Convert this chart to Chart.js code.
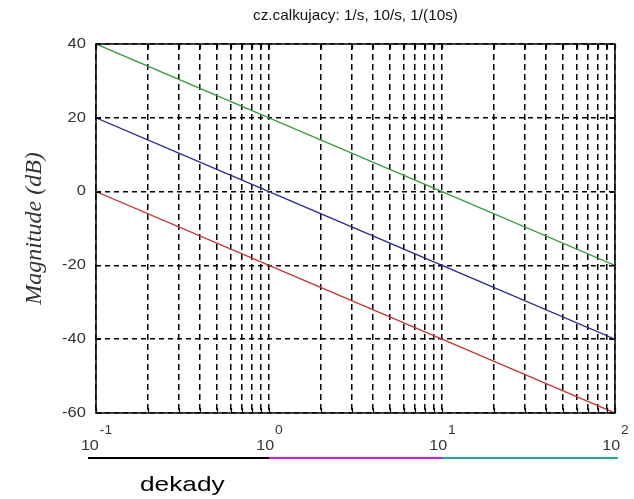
<!DOCTYPE html>
<html>
<head>
<meta charset="utf-8">
<script src="https://cdn.jsdelivr.net/npm/chart.js@4/dist/chart.umd.min.js"></script>
<style>
html,body{margin:0;padding:0;background:#fff;}
#wrap{width:634px;height:499px;position:relative;}
</style>
</head>
<body>
<div id="wrap"><canvas id="c" width="634" height="499"></canvas></div>
<script>
// ---- data ----
const titleText = 'cz.calkujacy: 1/s, 10/s, 1/(10s)';
const yLabelText = 'Magnitude (dB)';
const bottomText = 'dekady';
const freq = [0.1, 1, 10, 100];
const mag10s = [40, 20, 0, -20];      // 10/s
const mag1s = [20, 0, -20, -40];      // 1/s
const mag01s = [0, -20, -40, -60];    // 1/(10s)
const xDecades = [0.1, 1, 10, 100];
const xExponents = ['-1', '0', '1', '2'];
const xGridTicks = [0.1,0.2,0.3,0.4,0.5,0.6,0.7,0.8,0.9,1,2,3,4,5,6,7,8,9,10,20,30,40,50,60,70,80,90,100];
const yTicks = [-60, -40, -20, 0, 20, 40];
const decadeColors = ['#000000', '#e010e0', '#20a8a8'];

const pts = (ys) => freq.map((f, i) => ({x: f, y: ys[i]}));
const SANS = '"Liberation Sans", Arial, sans-serif';

function textW(ctx, t, font, sx) { ctx.font = font; return ctx.measureText(t).width * sx; }
function drawStretched(ctx, t, x, y, font, sx, align, baseline) {
  ctx.save();
  ctx.font = font;
  ctx.textBaseline = baseline || 'alphabetic';
  const w = ctx.measureText(t).width * sx;
  let left = x;
  if (align === 'center') left = x - w / 2;
  else if (align === 'right') left = x - w;
  ctx.translate(left, y);
  ctx.scale(sx, 1);
  ctx.textAlign = 'left';
  ctx.fillText(t, 0, 0);
  ctx.restore();
}

const decor = {
  id: 'decor',
  afterDraw(chart) {
    const ctx = chart.ctx, a = chart.chartArea;
    const xs = chart.scales.x, ys = chart.scales.y;
    ctx.save();
    // tick marks (solid, inward)
    ctx.strokeStyle = '#000'; ctx.lineWidth = 1.2; ctx.setLineDash([]);
    ctx.beginPath();
    xGridTicks.forEach(v => {
      const px = Math.round(xs.getPixelForValue(v)) + 0.5;
      ctx.moveTo(px, a.bottom); ctx.lineTo(px, a.bottom - 5);
      ctx.moveTo(px, a.top); ctx.lineTo(px, a.top + 5);
    });
    yTicks.forEach(v => {
      const py = Math.round(ys.getPixelForValue(v)) + 0.5;
      ctx.moveTo(a.left, py); ctx.lineTo(a.left + 5, py);
      ctx.moveTo(a.right, py); ctx.lineTo(a.right - 5, py);
    });
    ctx.stroke();
    // border box
    ctx.lineWidth = 1.6;
    ctx.strokeStyle = '#111';
    ctx.strokeRect(a.left, a.top, a.right - a.left, a.bottom - a.top);
    // y tick labels
    ctx.fillStyle = '#333';
    yTicks.forEach(v => {
      drawStretched(ctx, String(v), a.left - 10, ys.getPixelForValue(v), '14px ' + SANS, 1.18, 'right', 'middle');
    });
    // x labels 10^n
    xDecades.forEach((v, i) => {
      const px = xs.getPixelForValue(v);
      const fb = '14px ' + SANS, fe = '12px ' + SANS;
      const wb = textW(ctx, '10', fb, 1.15);
      const we = textW(ctx, xExponents[i], fe, 1.15);
      const start = px - (wb + we) / 2;
      drawStretched(ctx, '10', start, a.bottom + 37, fb, 1.15, 'left');
      drawStretched(ctx, xExponents[i], start + wb + 1, a.bottom + 21, fe, 1.15, 'left');
    });
    // decade colored line
    ctx.lineWidth = 2;
    const ly = a.bottom + 45;
    for (let i = 0; i < 3; i++) {
      let x0 = xs.getPixelForValue(xDecades[i]);
      const x1 = xs.getPixelForValue(xDecades[i + 1]);
      if (i === 0) x0 -= 8;
      ctx.strokeStyle = decadeColors[i];
      ctx.beginPath(); ctx.moveTo(x0, ly); ctx.lineTo(i === 2 ? x1 + 3 : x1, ly); ctx.stroke();
    }
    // dekady
    ctx.fillStyle = '#000';
    drawStretched(ctx, bottomText, 140, 491, '21px ' + SANS, 1.25, 'left');
    // title
    ctx.fillStyle = '#111';
    drawStretched(ctx, titleText, (a.left + a.right) / 2, 20, '15px ' + SANS, 1.02, 'center');
    // y label
    ctx.save();
    ctx.translate(35, (a.top + a.bottom) / 2);
    ctx.rotate(-Math.PI / 2);
    ctx.font = 'italic 24px "Liberation Serif", "DejaVu Serif", serif';
    ctx.textAlign = 'center'; ctx.textBaseline = 'middle';
    ctx.fillStyle = '#333';
    ctx.fillText(yLabelText, 0, 0);
    ctx.restore();
    ctx.restore();
  }
};

new Chart(document.getElementById('c'), {
  type: 'scatter',
  data: {
    datasets: [
      {label: '10/s', data: pts(mag10s), showLine: true, borderColor: '#3c9a46', borderWidth: 1.4, pointRadius: 0, fill: false},
      {label: '1/s', data: pts(mag1s), showLine: true, borderColor: '#2c2c8c', borderWidth: 1.4, pointRadius: 0, fill: false},
      {label: '1/(10s)', data: pts(mag01s), showLine: true, borderColor: '#c03a3a', borderWidth: 1.4, pointRadius: 0, fill: false}
    ]
  },
  options: {
    responsive: false,
    animation: false,
    layout: {padding: {left: 0, top: 44, right: 19, bottom: 86}},
    plugins: {legend: {display: false}, tooltip: {enabled: false}, title: {display: false}},
    scales: {
      x: {
        type: 'logarithmic', min: 0.1, max: 100,
        afterBuildTicks: (s) => { s.ticks = xGridTicks.map(v => ({value: v})); },
        afterFit: (s) => { s.height = 0; },
        ticks: {display: false},
        grid: {color: '#000', lineWidth: 1.5, drawTicks: false},
        border: {display: false, dash: [6, 4]}
      },
      y: {
        min: -60, max: 40,
        afterBuildTicks: (s) => { s.ticks = yTicks.map(v => ({value: v})); },
        afterFit: (s) => { s.width = 96; },
        ticks: {display: false},
        grid: {color: '#000', lineWidth: 1.5, drawTicks: false},
        border: {display: false, dash: [5, 4]}
      }
    }
  },
  plugins: [decor]
});
</script>
</body>
</html>
